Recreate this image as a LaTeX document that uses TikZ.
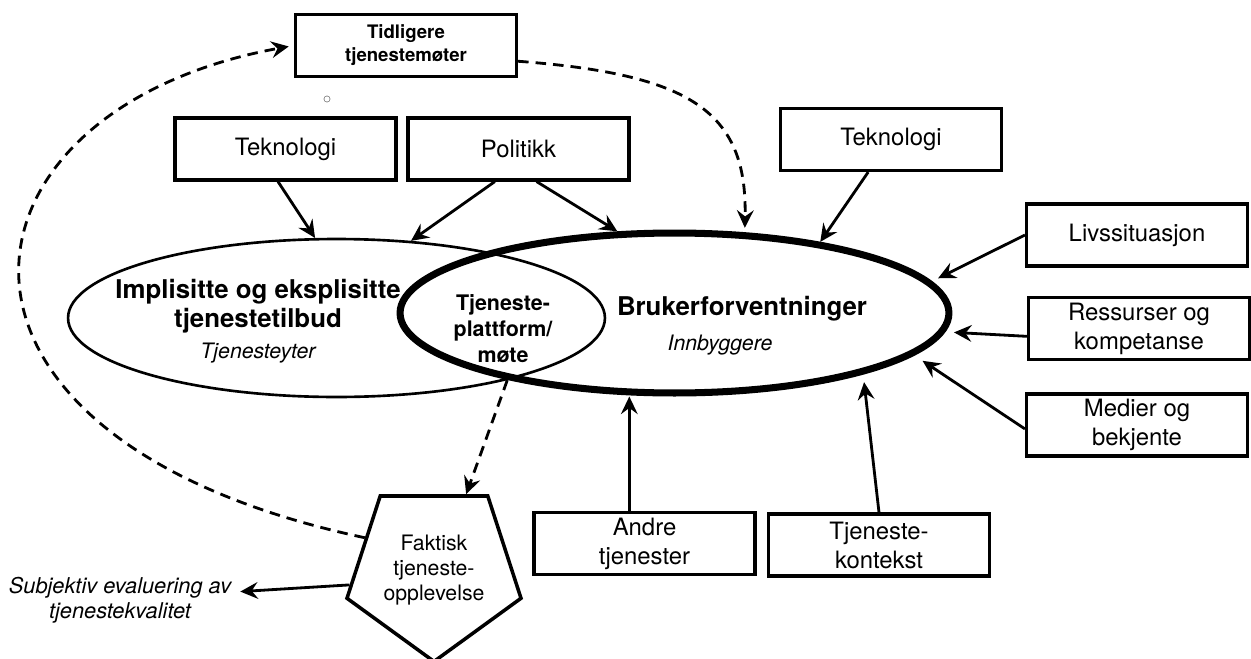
\documentclass[tikz,border=0pt]{standalone}
\usepackage{fontspec}
\setmainfont{TeX Gyre Heros}
\usetikzlibrary{arrows.meta,positioning,shapes.geometric}
\tikzset{
  sm/factor/.style={draw, rectangle, line width=1.8pt, minimum width=4.42cm, minimum height=1.24cm, align=center, inner sep=2pt, font=\fontsize{13.6}{16.5}\selectfont},
  sm/prior/.style={sm/factor, font=\fontsize{10.6}{13}\selectfont\bfseries},
  sm/offer/.style={draw, ellipse, line width=1.5pt, minimum width=10.74cm, minimum height=3.16cm, inner sep=0pt},
  sm/expect/.style={draw, ellipse, line width=4pt, minimum width=10.98cm, minimum height=3.2cm, inner sep=0pt},
  sm/experience/.style={draw, regular polygon, regular polygon sides=5, shape border rotate=180, line width=2pt, minimum size=3.66cm, inner sep=0pt, align=center, font=\fontsize{12.1}{14}\selectfont},
  sm/title/.style={align=center, font=\fontsize{14.7}{16.5}\selectfont\bfseries},
  sm/role/.style={font=\fontsize{12.1}{14}\selectfont\itshape},
  sm/arrow/.style={line width=1.6pt, -{Stealth[length=10pt, width=9.5pt, inset=3.5pt]}},
  sm/feedback/.style={sm/arrow, dash pattern=on 6pt off 4pt}
}

\begin{document}
\begin{tikzpicture}[x=0.02cm, y=-0.02cm]
  \useasboundingbox (0,0) rectangle (1251,659);

  % the two overlapping ellipses
  \node[sm/offer] (offer) at (336.5,318) {};
  \node[sm/expect] (expect) at (674.5,313) {};
  \node[sm/title] (offertext) at (258,321) {Implisitte og eksplisitte\\tjenestetilbud\\[1pt]{\mdseries\itshape\fontsize{12.1}{14}\selectfont Tjenesteyter}};
  \node[align=center, font=\fontsize{12.2}{14.8}\selectfont\bfseries] (platform) at (503,329) {Tjeneste-\\plattform/\\møte};
  \node[sm/title, anchor=base] (expecttext) at (742,315) {Brukerforventninger};
  \node[sm/role, anchor=base] (citizens) at (720,350) {Innbyggere};

  \node[sm/prior] (prior) at (406,45.5) {Tidligere\\tjenestemøter};
  \node[circle, draw=black!60, line width=0.3pt, inner sep=0pt, minimum size=3.5pt] (dot) at (327,99) {};

  \node[sm/factor] (tech1) at (285.5,149) {Teknologi};
  \node[sm/factor] (policy) at (518.5,149) {Politikk};
  \node[sm/factor] (tech2) at (891,139.5) {Teknologi};
  \node[sm/factor] (life) at (1137,235) {Livssituasjon};
  \node[sm/factor] (resources) at (1139,328.5) {Ressurser og\\kompetanse};
  \node[sm/factor] (media) at (1137,425) {Medier og\\bekjente};
  \node[sm/factor] (others) at (644.5,543.5) {Andre\\tjenester};
  \node[sm/factor] (context) at (879,545) {Tjeneste-\\kontekst};

  \node[sm/experience] (actual) at (434,570) {Faktisk\\tjeneste-\\opplevelse};
  \node[align=center, inner sep=5pt, font=\fontsize{12.4}{14.2}\selectfont\itshape] (verdict) at (120,600) {Subjektiv evaluering av\\tjenestekvalitet};

  \draw[sm/arrow] (tech1.-103) -- (offer.105);
  \draw[sm/arrow] (policy.-126) -- (offer.46);
  \draw[sm/arrow] (policy.-61) -- (expect.125);
  \draw[sm/arrow] (tech2.-125) -- (expect.26);
  \draw[sm/arrow, shorten >=4pt] (life.west) -- (expect.7);
  \draw[sm/arrow, shorten >=5pt] (resources.184) -- (expect.-4);
  \draw[sm/arrow, shorten >=5.7pt] (media.182) -- (expect.-10);
  \draw[sm/arrow] (others.115) -- (others.115 |- expect.south);
  \draw[sm/arrow, shorten >=4.5pt] (context.north) -- (expect.-18);
  \draw[sm/arrow] (actual.190) -- (verdict.4);

  \draw[sm/feedback] (offer.-20) -- (actual.67);
  \draw[sm/feedback, shorten >=3pt] (actual.155) .. controls +(-470,-100) and +(-353,64.5) .. (prior.west);
  \draw[sm/feedback, shorten >=2.5pt] (prior.-8) .. controls +(171,13) and +(3,-122) .. (expect.49);
\end{tikzpicture}
\end{document}
